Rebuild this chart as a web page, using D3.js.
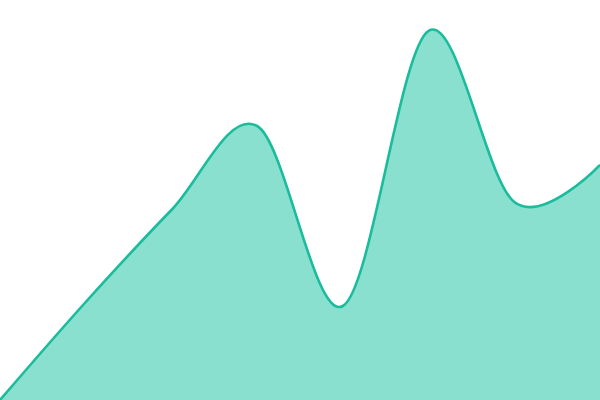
<!DOCTYPE html>
<html>
<head>
<meta charset="utf-8">
<script src="https://cdn.jsdelivr.net/npm/d3@7"></script>
<style>
  body { margin: 0; background: #fff; }
  svg { display: block; }
</style>
</head>
<body>
<div id="chart"></div>
<script>
// ============================
// Data
// ============================
const steps = [0, 1, 2, 3, 4, 5, 6, 7];
const values = [0, 24.5, 47.5, 68.5, 23.5, 92.3, 49.5, 58.8];

const width = 600;
const height = 400;

function drawArea() {
  const svg = d3.select("#chart").append("svg")
    .attr("width", width)
    .attr("height", height)
    .attr("viewBox", [0, 0, width, height]);

  const xscale = d3.scaleLinear().domain(d3.extent(steps)).range([0, width]);
  const yscale = d3.scaleLinear().domain([0, 100]).range([height, 0]);

  const data = steps.map((d, i) => ({x: d, y: values[i]}));

  // filled area under the curve
  const area = d3.area()
    .curve(d3.curveCardinal)
    .x(d => xscale(d.x))
    .y0(yscale(0))
    .y1(d => yscale(d.y));

  // outline on top
  const line = d3.line()
    .curve(d3.curveCardinal)
    .x(d => xscale(d.x))
    .y(d => yscale(d.y));

  svg.append("path")
    .datum(data)
    .attr("fill", "#89e0cf")
    .attr("d", area);

  svg.append("path")
    .datum(data)
    .attr("fill", "none")
    .attr("stroke", "#1abc9c")
    .attr("stroke-width", 2.6)
    .attr("d", line);
}

drawArea();
</script>
</body>
</html>
